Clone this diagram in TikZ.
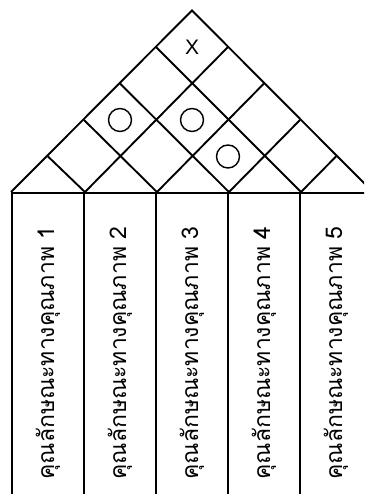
\documentclass[tikz,border=0pt]{standalone}
\usepackage{fontspec}
\setmainfont{Liberation Sans}
\newfontfamily\thaifont[Script=Thai]{Loma}
\usepackage{tikz}
\usetikzlibrary{positioning}

\begin{document}
\begin{tikzpicture}[x=1pt, y=1pt, line width=1.9pt, node distance=72pt, on grid,
    col/.style={draw, rotate=90, minimum width=320pt, minimum height=72pt, inner sep=0pt,
                font=\thaifont\fontsize{23}{26}\selectfont},
    rel/.style={draw, circle, line width=1.4pt, minimum size=23pt, inner sep=0pt},
    neg/.style={inner sep=0pt, font=\fontsize{21}{24}\selectfont}]
    \useasboundingbox (0,0) rectangle (364,494);
    \clip (0,0) rectangle (364,494);

    % quality characteristics
    \node[col] (c1) at (48,141) {คุณลักษณะทางคุณภาพ 1};
    \node[col] (c2) [right=of c1] {คุณลักษณะทางคุณภาพ 2};
    \node[col] (c3) [right=of c2] {คุณลักษณะทางคุณภาพ 3};
    \node[col] (c4) [right=of c3] {คุณลักษณะทางคุณภาพ 4};
    \node[col] (c5) [right=of c4] {คุณลักษณะทางคุณภาพ 5};

    % roof
    \coordinate (top) at (192,483.5);
    \coordinate (l1) at (48,337.5);
    \coordinate (l2) at (84,374);
    \coordinate (l3) at (120,410.5);
    \coordinate (l4) at (156,447);
    \coordinate (r1) at (336,337.5);
    \coordinate (r2) at (300,374);
    \coordinate (r3) at (264,410.5);
    \coordinate (r4) at (228,447);

    \draw (c1.north east) -- (top) -- (c5.south east);
    \draw (c1.south east) -- (r4)
          (c2.south east) -- (r3)
          (c3.south east) -- (r2)
          (c4.south east) -- (r1);
    \draw (c1.south east) -- (l1)
          (c2.south east) -- (l2)
          (c3.south east) -- (l3)
          (c4.south east) -- (l4);

    % correlations
    \node[neg] (x15) at (192,447) {X};
    \node[rel] (o13) at (120,374) {};
    \node[rel] (o24) at (192,374) {};
    \node[rel] (o34) at (228,337.5) {};
\end{tikzpicture}
\end{document}
